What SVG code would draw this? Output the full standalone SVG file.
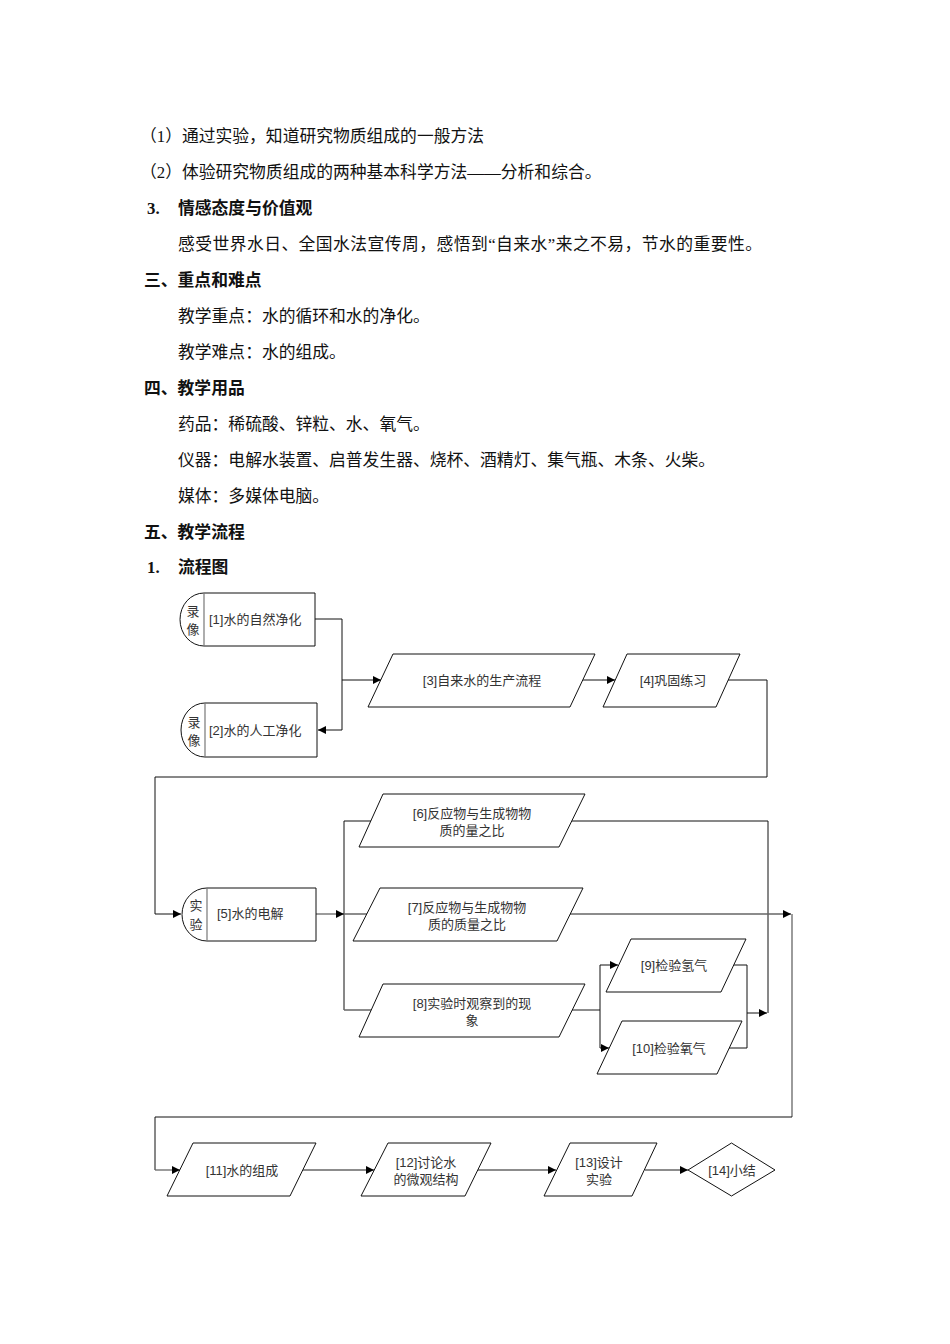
<svg xmlns="http://www.w3.org/2000/svg" width="950" height="1344" viewBox="0 0 950 1344">
<style>
.body{font-family:"Liberation Serif","Noto Sans CJK SC",serif;font-size:16.8px;fill:#111}
.head{font-family:"Liberation Serif","Noto Sans CJK SC",sans-serif;font-size:16.8px;font-weight:bold;fill:#111}
.t{font-family:"Liberation Sans","Noto Sans CJK SC",sans-serif;font-size:13px;fill:#333}
.tm{text-anchor:middle}
.shape{fill:#fff;stroke:#111;stroke-width:1}
.div{stroke:#777;stroke-width:1.2}
.ln{fill:none;stroke:#111;stroke-width:1}
.lg{fill:none;stroke:#666;stroke-width:1.3}
</style>
<defs>
<marker id="arr" viewBox="0 0 10 10" refX="10" refY="5" markerWidth="9" markerHeight="8" markerUnits="userSpaceOnUse" orient="auto">
<path d="M0,0 L10,5 L0,10 z" fill="#000"/>
</marker>
</defs>
<rect width="950" height="1344" fill="#fff"/>

<g id="text-body">
<text class="body" x="140" y="142">（1）通过实验，知道研究物质组成的一般方法</text>
<text class="body" x="140" y="178">（2）体验研究物质组成的两种基本科学方法——分析和综合。</text>
<text class="head" x="147" y="214">3.</text>
<text class="head" x="178" y="214">情感态度与价值观</text>
<text class="body" x="178" y="250" textLength="584" lengthAdjust="spacing">感受世界水日、全国水法宣传周，感悟到“自来水”来之不易，节水的重要性。</text>
<text class="head" x="144" y="286">三、重点和难点</text>
<text class="body" x="178" y="322">教学重点：水的循环和水的净化。</text>
<text class="body" x="178" y="358">教学难点：水的组成。</text>
<text class="head" x="144" y="394">四、教学用品</text>
<text class="body" x="178" y="430">药品：稀硫酸、锌粒、水、氧气。</text>
<text class="body" x="178" y="466">仪器：电解水装置、启普发生器、烧杯、酒精灯、集气瓶、木条、火柴。</text>
<text class="body" x="178" y="502">媒体：多媒体电脑。</text>
<text class="head" x="144" y="538">五、教学流程</text>
<text class="head" x="147" y="573">1.</text>
<text class="head" x="178" y="573">流程图</text>
</g>

<g id="connectors">
<path class="ln" d="M315,619 H342 V730 H318" marker-end="url(#arr)"/>
<path class="ln" d="M342,680 H381" marker-end="url(#arr)"/>
<path class="ln" d="M582,680 H615" marker-end="url(#arr)"/>
<path class="ln" d="M728,680 H767 V777 H155 V914 H181" marker-end="url(#arr)"/>
<path class="lg" d="M316,914 H344" marker-end="url(#arr)"/>
<path class="ln" d="M344,821 V1010"/>
<path class="ln" d="M344,821 H768 V1013"/>
<path class="lg" d="M344,914 H791" marker-end="url(#arr)"/>
<path class="lg" d="M792,914 V1117"/>
<path class="ln" d="M792,1117 H155 V1170"/>
<path class="lg" d="M155,1170 H180" marker-end="url(#arr)"/>
<path class="lg" d="M344,1010 H600"/>
<path class="ln" d="M600,965 V1048"/>
<path class="ln" d="M600,965 H618" marker-end="url(#arr)"/>
<path class="ln" d="M600,1048 H609" marker-end="url(#arr)"/>
<path class="ln" d="M733,965 H747 V1048 H729"/>
<path class="ln" d="M747,1013 H767" marker-end="url(#arr)"/>
<path class="lg" d="M303,1170 H374" marker-end="url(#arr)"/>
<path class="lg" d="M478,1170 H556" marker-end="url(#arr)"/>
<path class="lg" d="M645,1170 H688" marker-end="url(#arr)"/>
</g>

<g id="n1">
<path class="shape" d="M204,593 H315 V646 H204 A24,26.5 0 0 1 204,593 Z"/>
<line class="div" x1="204" y1="593" x2="204" y2="646"/>
<text class="t tm" x="193" y="616">录</text>
<text class="t tm" x="193" y="634">像</text>
<text class="t" x="209" y="624">[1]水的自然净化</text>
</g>
<g id="n2">
<path class="shape" d="M205,703 H317 V757 H205 A24,27 0 0 1 205,703 Z"/>
<line class="div" x1="205" y1="703" x2="205" y2="757"/>
<text class="t tm" x="194" y="727">录</text>
<text class="t tm" x="194" y="745">像</text>
<text class="t" x="209" y="735">[2]水的人工净化</text>
</g>
<g id="n3">
<polygon class="shape" points="393,654 595,654 570,707 368,707"/>
<text class="t tm" x="482" y="685">[3]自来水的生产流程</text>
</g>
<g id="n4">
<polygon class="shape" points="627,654 740,654 716,707 603,707"/>
<text class="t tm" x="673" y="685">[4]巩固练习</text>
</g>
<g id="n5">
<path class="shape" d="M207,888 H316 V941 H207 A25,26.5 0 0 1 207,888 Z"/>
<line class="div" x1="207" y1="888" x2="207" y2="941"/>
<text class="t tm" x="196" y="910">实</text>
<text class="t tm" x="196" y="929">验</text>
<text class="t" x="217" y="918">[5]水的电解</text>
</g>
<g id="n6">
<polygon class="shape" points="383,794 585,794 559,847 359,847"/>
<text class="t tm" x="472" y="818">[6]反应物与生成物物</text>
<text class="t tm" x="472" y="835">质的量之比</text>
</g>
<g id="n7">
<polygon class="shape" points="380,888 583,888 557,941 353,941"/>
<text class="t tm" x="467" y="912">[7]反应物与生成物物</text>
<text class="t tm" x="467" y="929">质的质量之比</text>
</g>
<g id="n8">
<polygon class="shape" points="383,984 585,984 559,1037 359,1037"/>
<text class="t tm" x="472" y="1008">[8]实验时观察到的现</text>
<text class="t tm" x="472" y="1025">象</text>
</g>
<g id="n9">
<polygon class="shape" points="631,939 746,939 721,992 606,992"/>
<text class="t tm" x="674" y="970">[9]检验氢气</text>
</g>
<g id="n10">
<polygon class="shape" points="622,1021 742,1021 717,1074 597,1074"/>
<text class="t tm" x="669" y="1053">[10]检验氧气</text>
</g>
<g id="n11">
<polygon class="shape" points="193,1143 316,1143 290,1196 167,1196"/>
<text class="t tm" x="242" y="1175">[11]水的组成</text>
</g>
<g id="n12">
<polygon class="shape" points="388,1143 491,1143 465,1196 361,1196"/>
<text class="t tm" x="426" y="1167">[12]讨论水</text>
<text class="t tm" x="426" y="1184">的微观结构</text>
</g>
<g id="n13">
<polygon class="shape" points="570,1143 657,1143 632,1196 544,1196"/>
<text class="t tm" x="599" y="1167">[13]设计</text>
<text class="t tm" x="599" y="1184">实验</text>
</g>
<g id="n14">
<polygon class="shape" points="688,1170 731.5,1143 775,1170 731.5,1196"/>
<text class="t tm" x="732" y="1175">[14]小结</text>
</g>
</svg>
